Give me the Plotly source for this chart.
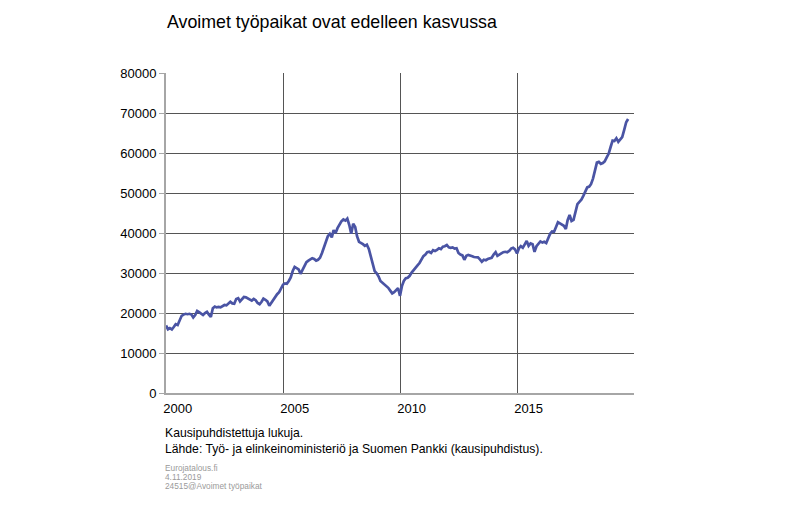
import pandas as pd
import plotly.graph_objects as go

# Monthly vacancies (seasonally adjusted), Jan 2000 onwards
v2000 = [16900, 15900, 16200, 15900, 16500, 17200, 17000, 18200, 19300, 19600, 19800, 19700]
v2001 = [19800, 19600, 18900, 19500, 20500, 20200, 19900, 19500, 20000, 20300, 19600, 19000]
v2002 = [21200, 21600, 21400, 21500, 21400, 21800, 22000, 21900, 22500, 22800, 22400, 22300]
v2003 = [23500, 23700, 22900, 23500, 24000, 23900, 23700, 23300, 23100, 23500, 23200, 22500]
v2004 = [22200, 22800, 23600, 23300, 22900, 21800, 22600, 23200, 24100, 24700, 25200, 26200]
v2005 = [27100, 27400, 27300, 28000, 28900, 30500, 31500, 31200, 30900, 29800, 30800, 31800]
v2006 = [32700, 33100, 33400, 33700, 33500, 33100, 33300, 33800, 35000, 36500, 37900, 39200]
v2007 = [39800, 38900, 40700, 40000, 41200, 42200, 42900, 43400, 43100, 43600, 42000, 39800]
v2008 = [42300, 41500, 39200, 37800, 37600, 37200, 36800, 37100, 36000, 34000, 31800, 30500]
v2009 = [29900, 29100, 28000, 27600, 27300, 26900, 26300, 25600, 24900, 25200, 25800, 26200]
v2010 = [24300, 26800, 28000, 28700, 28800, 29300, 30100, 30800, 31400, 31900, 32500, 33400]
v2011 = [34200, 34600, 35200, 35300, 35000, 35700, 35500, 35800, 36200, 36000, 36600, 36700]
v2012 = [37000, 36400, 36300, 36400, 36100, 36200, 35000, 34600, 34400, 33300, 34300, 34500]
v2013 = [34400, 34200, 34000, 33900, 33900, 33400, 32800, 33300, 33200, 33500, 33700, 33800]
v2014 = [34600, 35200, 34300, 34700, 34900, 35200, 35300, 35200, 35500, 36100, 36300, 35900]
v2015 = [34900, 36200, 36700, 36300, 37000, 38000, 36800, 37400, 37200, 35300, 36700, 37400]
v2016 = [37900, 37600, 37800, 37500, 38800, 39800, 40400, 40300, 41500, 42700, 42400, 42100]
v2017 = [41800, 41000, 43200, 44500, 43000, 43300, 45200, 47200, 47800, 48300, 49300, 50500]
v2018 = [51400, 51600, 52200, 53600, 55600, 57600, 57800, 57300, 57500, 57900, 58900, 59800]
v2019 = [61500, 63100, 63000, 63700, 62800, 63300, 64000, 65800, 67700, 68500]

values = (v2000 + v2001 + v2002 + v2003 + v2004 + v2005 + v2006 + v2007 + v2008 + v2009
          + v2010 + v2011 + v2012 + v2013 + v2014 + v2015 + v2016 + v2017 + v2018 + v2019)
dates = pd.date_range("2000-01-01", periods=len(values), freq="MS")

year_labels = ["2000", "2005", "2010", "2015"]
label_positions = ["2000-07-01", "2005-07-01", "2010-07-01", "2015-07-01"]
grid_years = ["2005-01-01", "2010-01-01", "2015-01-01"]
y_ticks = [0, 10000, 20000, 30000, 40000, 50000, 60000, 70000, 80000]

title = "Avoimet työpaikat ovat edelleen kasvussa"
note1 = "Kausipuhdistettuja lukuja."
note2 = "Lähde: Työ- ja elinkeinoministeriö ja Suomen Pankki (kausipuhdistus)."
footer = ["Eurojatalous.fi", "4.11.2019", "24515@Avoimet työpaikat"]

FONT = "Liberation Sans, Arial, sans-serif"
x_range = ["2000-01-01", "2020-01-01"]

# page has an 8px body margin; figure coordinates = page coordinates - 8
W, H = 785, 507
L, T, PW, PH = 158, 65, 468, 320
BOTTOM = T + PH  # figure pixel of plot bottom


def py(page_y):
    return (BOTTOM - (page_y - 8)) / PH


fig = go.Figure()
fig.add_trace(go.Scatter(
    x=dates, y=values, mode="lines",
    line=dict(color="#4a54a4", width=2.7),
    hoverinfo="skip", showlegend=False,
))

fig.update_layout(
    width=W, height=H,
    margin=dict(l=L, r=W - L - PW, t=T, b=H - T - PH),
    paper_bgcolor="white", plot_bgcolor="white",
    font=dict(family=FONT, size=12, color="black"),
    title=dict(text=title, x=(167 - 8) / W, xanchor="left", y=1 - (22 - 8) / H,
               yanchor="middle", font=dict(family=FONT, size=17.8, color="black")),
    xaxis=dict(
        type="date", range=x_range,
        tickvals=grid_years, showticklabels=False,
        showgrid=True, gridcolor="#555555", gridwidth=1,
        showline=True, linecolor="#a6a6a6", linewidth=2,
        ticks="", zeroline=False,
    ),
    xaxis2=dict(
        type="date", range=x_range, overlaying="x", anchor="y", side="bottom",
        tickvals=label_positions, ticktext=year_labels,
        showgrid=False, showline=False, ticks="", zeroline=False,
        ticklabelstandoff=6,
        tickfont=dict(family=FONT, size=13, color="black"),
    ),
    yaxis=dict(
        range=[0, 80000], tickvals=y_ticks, ticktext=[str(v) for v in y_ticks],
        showgrid=True, gridcolor="#555555", gridwidth=1,
        showline=True, linecolor="#a6a6a6", linewidth=2,
        ticks="outside", ticklen=5, tickcolor="#a6a6a6", tickwidth=1,
        zeroline=False,
        tickfont=dict(family=FONT, size=13, color="black"),
    ),
)

# invisible anchor so the label axis is drawn
fig.add_trace(go.Scatter(x=[dates[0]], y=[None], xaxis="x2", mode="lines",
                         showlegend=False, hoverinfo="skip"))

NX = -0.007
fig.add_annotation(text=note1, xref="paper", yref="paper", x=NX, y=py(433),
                   xanchor="left", yanchor="middle", showarrow=False,
                   font=dict(family=FONT, size=12.2, color="black"))
fig.add_annotation(text=note2, xref="paper", yref="paper", x=NX, y=py(449),
                   xanchor="left", yanchor="middle", showarrow=False,
                   font=dict(family=FONT, size=12.2, color="black"))
for i, t in enumerate(footer):
    fig.add_annotation(text=t, xref="paper", yref="paper", x=NX,
                       y=py(467.7 + 9.2 * i),
                       xanchor="left", yanchor="middle", showarrow=False,
                       font=dict(family=FONT, size=8.3, color="#9a9a9a"))

fig.write_html("out.html")
